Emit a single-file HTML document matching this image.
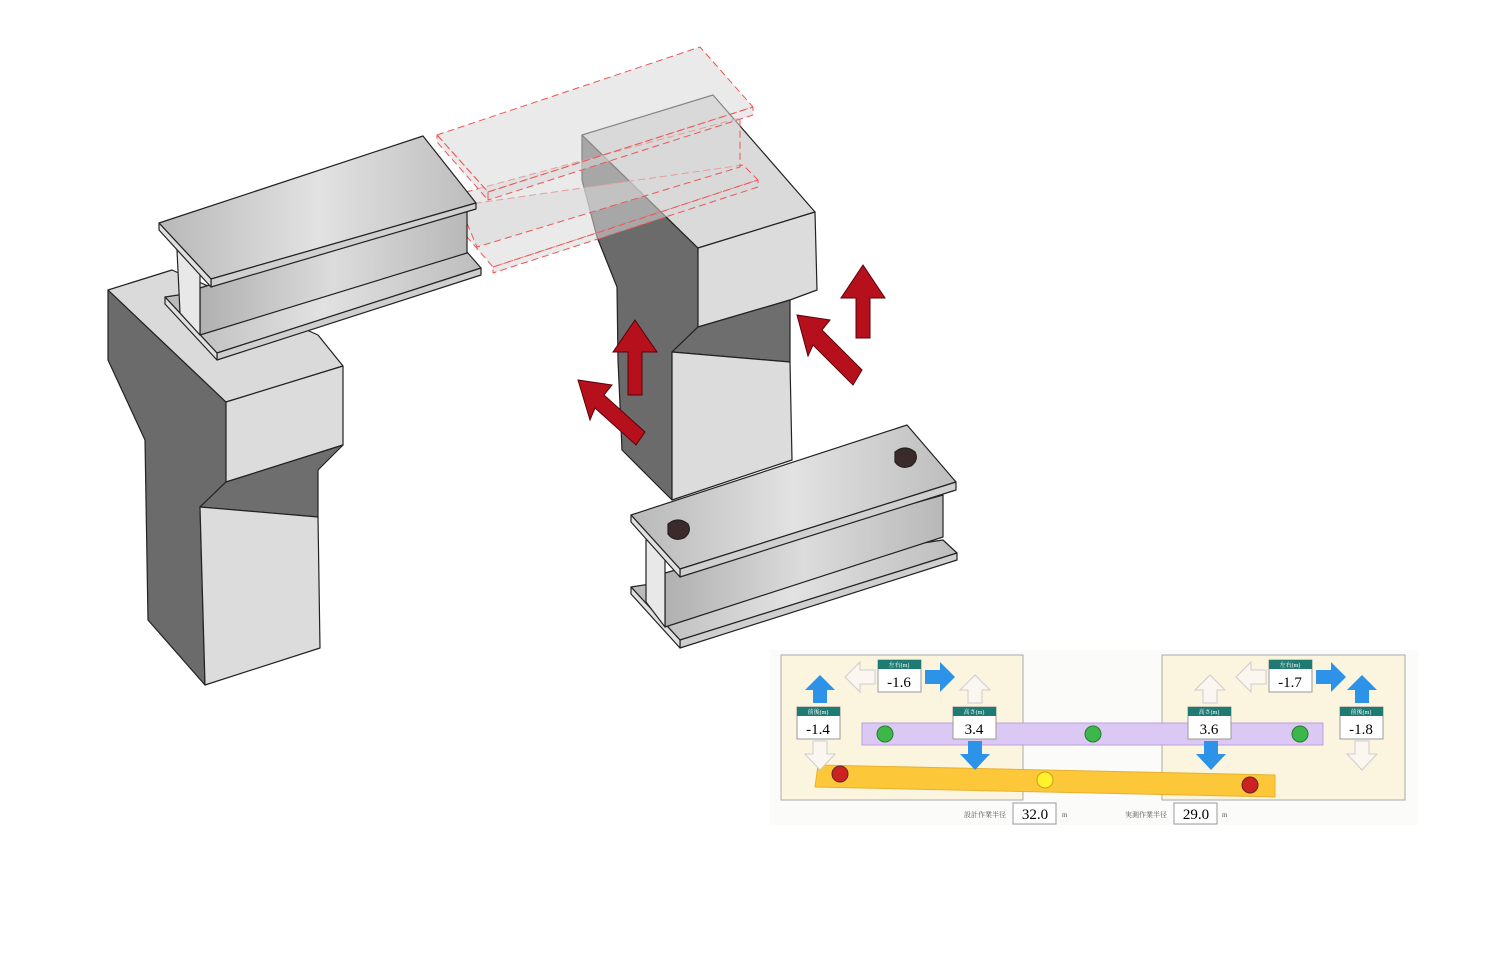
<!DOCTYPE html>
<html><head><meta charset="utf-8"><style>body{margin:0;background:#fff}svg{display:block}</style></head><body>
<svg width="1500" height="970" viewBox="0 0 1500 970" xmlns="http://www.w3.org/2000/svg" font-family="Liberation Serif, Noto Serif CJK SC, serif">
<defs>
<linearGradient id="g" x1="0" x2="1"><stop offset="0" stop-color="#b8b8b8"/><stop offset=".5" stop-color="#e2e2e2"/><stop offset="1" stop-color="#bdbdbd"/></linearGradient>
<linearGradient id="g2" x1="0" x2="1"><stop offset="0" stop-color="#b0b0b0"/><stop offset=".5" stop-color="#dcdcdc"/><stop offset="1" stop-color="#b8b8b8"/></linearGradient>
</defs>
<g stroke="#222" stroke-width="1.2" stroke-linejoin="round">
<!-- left pier -->
<polygon points="108,290 226,402 226,482 200,507 205,685 148,620 145,440 108,360" fill="#6b6b6b"/>
<polygon points="108,290 172,270 318,335 343,366 226,402" fill="#dadada"/>
<polygon points="226,402 343,366 343,445 226,482" fill="#dcdcdc"/>
<polygon points="226,482 343,445 318,470 318,517 200,507" fill="#6e6e6e"/>
<polygon points="200,507 318,517 320,648 205,685" fill="#dcdcdc"/>
<!-- right pier -->
<polygon points="582,135 698,248 698,327 672,352 672,500 622,450 618,360 617,287 597,237 582,180" fill="#6b6b6b"/>
<polygon points="582,135 713,95 815,212 698,248" fill="#dadada"/>
<polygon points="698,248 815,212 817,290 790,300 698,327" fill="#dcdcdc"/>
<polygon points="698,327 790,300 790,362 672,352" fill="#6e6e6e"/>
<polygon points="672,352 790,362 792,460 672,500" fill="#dcdcdc"/>
</g>
<!-- ghost beam -->
<g stroke="#e55" stroke-width="1" stroke-dasharray="7,4" fill="#d8d8d8" fill-opacity=".55" stroke-linejoin="round">
<polygon points="442,208 743,165 758,180 493,267"/>
<polygon points="493,267 758,180 758,187 493,273"/>
<polygon points="455,195 740,118 740,167 477,247"/>
<polygon points="437,135 700,47 753,107 488,192"/>
<polygon points="488,192 753,107 753,115 488,200"/>
<polygon points="437,135 488,192 488,200 437,142"/>
</g>
<g stroke="#222" stroke-width="1.2" stroke-linejoin="round">
<!-- left beam -->
<polygon points="165,297 467,252 481,268 217,353" fill="url(#g)"/>
<polygon points="217,353 481,268 481,275 217,360" fill="#cfcfcf"/>
<polygon points="165,297 217,353 217,360 165,304" fill="#e0e0e0"/>
<polygon points="200,288 467,203 467,253 200,335" fill="url(#g2)"/>
<polygon points="177,250 200,258 200,335 180,313" fill="#e8e8e8"/>
<polygon points="159,223 423,136 476,203 211,279" fill="url(#g)"/>
<polygon points="211,279 476,203 476,209 211,287" fill="#d0d0d0"/>
<polygon points="159,223 211,279 211,287 159,230" fill="#e0e0e0"/>
<!-- right beam -->
<polygon points="631,587 943,540 957,553 680,640" fill="url(#g)"/>
<polygon points="680,640 957,553 957,560 680,648" fill="#cfcfcf"/>
<polygon points="631,587 680,640 680,648 631,594" fill="#e0e0e0"/>
<polygon points="665,573 943,495 943,537 665,627" fill="url(#g2)"/>
<polygon points="646,540 665,548 665,627 646,602" fill="#e8e8e8"/>
<polygon points="631,515 907,425 956,482 680,569" fill="url(#g)"/>
<polygon points="680,569 956,482 956,490 680,577" fill="#d0d0d0"/>
<polygon points="631,515 680,569 680,577 631,522" fill="#e0e0e0"/>
<path d="M668,524 q10,-8 20,0 q4,8 -4,14 q-10,4 -16,-4 z" fill="#3a2a2a"/>
<path d="M895,452 q10,-8 20,0 q4,8 -4,14 q-10,4 -16,-4 z" fill="#3a2a2a"/>
</g>
<!-- red arrows -->
<g fill="#b5101c" stroke="#5a0008" stroke-width="1">
<polygon points="635,320 657,352 642,352 642,395 628,395 628,352 613,352"/>
<polygon points="863,265 885,298 870,298 870,338 856,338 856,298 841,298"/>
<polygon points="578,380 612,385 604,395 645,432 636,445 595,408 590,420"/>
<polygon points="797,315 830,320 822,330 862,370 853,385 813,345 808,356"/>
</g>
<!-- panel -->
<rect x="770" y="650" width="648" height="175" fill="#fbfbfa"/>
<rect x="781" y="655" width="242" height="145" fill="#fbf5e0" stroke="#aaa"/>
<rect x="1162" y="655" width="243" height="145" fill="#fbf5e0" stroke="#aaa"/>
<rect x="862" y="723" width="461" height="22" fill="#dcc8f5" stroke="#b9a2d8"/>
<polygon points="818,765 1275,775 1275,797 815,787" fill="#fcc83a" stroke="#e7b030"/>
<circle cx="885" cy="734" r="8" fill="#3cb84a" stroke="#2a7a30"/>
<circle cx="1093" cy="734" r="8" fill="#3cb84a" stroke="#2a7a30"/>
<circle cx="1300" cy="734" r="8" fill="#3cb84a" stroke="#2a7a30"/>
<circle cx="840" cy="774" r="8" fill="#c22" stroke="#622"/>
<circle cx="1045" cy="780" r="8" fill="#fef22a" stroke="#c9a020"/>
<circle cx="1250" cy="785" r="8" fill="#c22" stroke="#622"/>
<g fill="#2d93e8">
<polygon points="820,675 835,690 827,690 827,703 813,703 813,690 805,690"/>
<polygon points="955,677 940,662 940,670 925,670 925,684 940,684 940,692"/>
<polygon points="975,770 990,754 982,754 982,741 968,741 968,754 960,754"/>
<polygon points="1211,770 1226,754 1218,754 1218,741 1204,741 1204,754 1196,754"/>
<polygon points="1346,677 1331,662 1331,670 1316,670 1316,684 1331,684 1331,692"/>
<polygon points="1362,675 1377,690 1369,690 1369,703 1355,703 1355,690 1347,690"/>
</g>
<g fill="#fbf7f0" stroke="#ccc">
<polygon points="845,677 860,662 860,670 875,670 875,684 860,684 860,692"/>
<polygon points="975,675 990,690 982,690 982,703 968,703 968,690 960,690"/>
<polygon points="820,770 835,754 827,754 827,741 813,741 813,754 805,754"/>
<polygon points="1236,677 1251,662 1251,670 1266,670 1266,684 1251,684 1251,692"/>
<polygon points="1210,675 1225,690 1217,690 1217,703 1203,703 1203,690 1195,690"/>
<polygon points="1362,770 1377,754 1369,754 1369,741 1355,741 1355,754 1347,754"/>
</g>
<g font-size="15" text-anchor="middle">
<g><rect x="878" y="660" width="43" height="32" fill="#fff" stroke="#999"/><rect x="878" y="660" width="43" height="9" fill="#1f7a72"/><text x="899" y="667" font-size="6" fill="#fff">左右(m)</text><text x="899" y="687">-1.6</text></g>
<g><rect x="797" y="707" width="43" height="32" fill="#fff" stroke="#999"/><rect x="797" y="707" width="43" height="9" fill="#1f7a72"/><text x="818" y="714" font-size="6" fill="#fff">前後(m)</text><text x="818" y="734">-1.4</text></g>
<g><rect x="953" y="707" width="43" height="32" fill="#fff" stroke="#999"/><rect x="953" y="707" width="43" height="9" fill="#1f7a72"/><text x="974" y="714" font-size="6" fill="#fff">高さ(m)</text><text x="974" y="734">3.4</text></g>
<g><rect x="1269" y="660" width="43" height="32" fill="#fff" stroke="#999"/><rect x="1269" y="660" width="43" height="9" fill="#1f7a72"/><text x="1290" y="667" font-size="6" fill="#fff">左右(m)</text><text x="1290" y="687">-1.7</text></g>
<g><rect x="1188" y="707" width="43" height="32" fill="#fff" stroke="#999"/><rect x="1188" y="707" width="43" height="9" fill="#1f7a72"/><text x="1209" y="714" font-size="6" fill="#fff">高さ(m)</text><text x="1209" y="734">3.6</text></g>
<g><rect x="1340" y="707" width="43" height="32" fill="#fff" stroke="#999"/><rect x="1340" y="707" width="43" height="9" fill="#1f7a72"/><text x="1361" y="714" font-size="6" fill="#fff">前後(m)</text><text x="1361" y="734">-1.8</text></g>
<rect x="1013" y="803" width="43" height="21" fill="#fff" stroke="#999"/><text x="1035" y="819">32.0</text>
<rect x="1174" y="803" width="43" height="21" fill="#fff" stroke="#999"/><text x="1196" y="819">29.0</text>
</g>
<g font-size="7" fill="#555"><text x="964" y="817">設計作業半径</text><text x="1062" y="817">m</text><text x="1125" y="817">実測作業半径</text><text x="1222" y="817">m</text></g>
</svg>
</body></html>
